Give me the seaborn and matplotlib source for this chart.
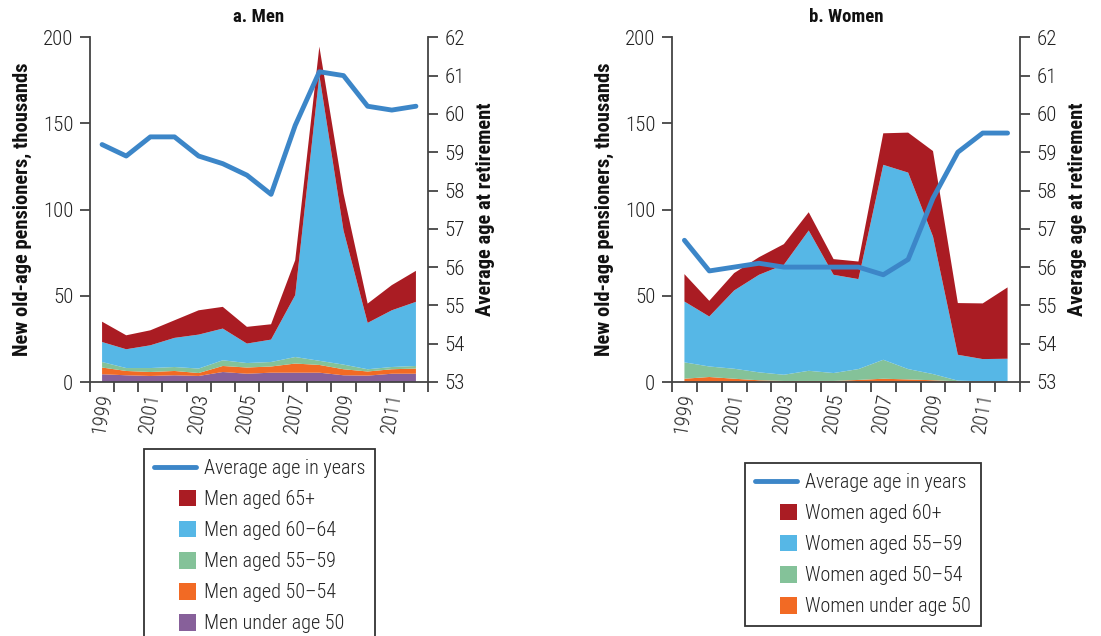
import matplotlib
matplotlib.use("Agg")
import matplotlib.pyplot as plt
import numpy as np
import pandas as pd
import seaborn as sns
from matplotlib.patches import Rectangle, Patch
from matplotlib.lines import Line2D
from matplotlib.legend_handler import HandlerPatch

# ---------------- data ----------------
years = list(range(1999, 2013))
year_labels = ["1999", "2001", "2003", "2005", "2007", "2009", "2011"]

men_under50 = [4.5, 3.9, 3.5, 3.9, 3.5, 5.8, 4.8, 5.4, 5.4, 5.4, 3.9, 3.7, 4.8, 4.8]
men_50_54 = [3.9, 2.5, 2.3, 2.5, 1.7, 3.5, 3.6, 3.6, 5.3, 4.5, 3.5, 2.4, 2.6, 3.0]
men_55_59 = [3.2, 1.7, 2.3, 2.3, 2.6, 3.3, 2.6, 2.6, 3.8, 2.4, 2.7, 1.3, 1.3, 1.5]
men_60_64 = [11.6, 10.9, 13.2, 16.9, 19.7, 18.4, 11.3, 13.0, 35.9, 165.7, 77.9, 26.9, 32.9, 37.2]
men_65plus = [11.8, 8.1, 8.7, 10.2, 14.1, 12.6, 9.7, 8.9, 20.3, 16.6, 21.4, 11.2, 14.6, 18.0]
men_avg_age = [59.2, 58.9, 59.4, 59.4, 58.9, 58.7, 58.4, 57.9, 59.7, 61.1, 61.0, 60.2, 60.1, 60.2]

women_under50 = [1.9, 2.9, 1.9, 1.0, 0.6, 0.6, 0.6, 1.2, 1.9, 1.5, 1.0, 0.4, 0.2, 0.2]
women_50_54 = [9.5, 6.1, 5.8, 4.6, 3.6, 5.9, 4.6, 6.3, 11.0, 6.0, 3.6, 0.4, 0.2, 0.2]
women_55_59 = [35.3, 29.0, 45.4, 56.6, 63.8, 81.4, 57.0, 52.2, 113.1, 114.0, 79.8, 15.0, 12.9, 13.1]
women_60plus = [15.9, 9.1, 10.1, 10.2, 12.0, 10.6, 9.1, 10.2, 18.3, 23.2, 49.6, 30.0, 32.3, 41.4]
women_avg_age = [56.7, 55.9, 56.0, 56.1, 56.0, 56.0, 56.0, 56.0, 55.8, 56.2, 57.8, 59.0, 59.5, 59.5]

men_labels = ["Men under age 50", "Men aged 50\u201354", "Men aged 55\u201359",
              "Men aged 60\u201364", "Men aged 65+"]
women_labels = ["Women under age 50", "Women aged 50\u201354", "Women aged 55\u201359",
                "Women aged 60+"]
line_label = "Average age in years"

# ---------------- style ----------------
C_RED = "#AA1C23"
C_BLUE = "#56B7E6"
C_GREEN = "#84C299"
C_ORANGE = "#F26A24"
C_PURPLE = "#87609A"
C_LINE = "#3C86C8"
C_AX = "#444444"
C_TXT = "#222222"

sns.set_theme(style="white")
plt.rcParams["font.family"] = ["Roboto Condensed", "DejaVu Sans"]

fig = plt.figure(figsize=(11.01, 6.36), dpi=100)

ax_m = fig.add_axes([90 / 1101, 1 - 382 / 636, 338 / 1101, 344.7 / 636])
ax_w = fig.add_axes([672 / 1101, 1 - 382 / 636, 348 / 1101, 344.7 / 636])


class SquareHandler(HandlerPatch):
    def create_artists(self, legend, orig_handle, xdescent, ydescent,
                       width, height, fontsize, trans):
        s = fontsize * 0.82
        p = Rectangle((-xdescent + width - s, -ydescent + (height - s) / 2), s, s,
                      facecolor=orig_handle.get_facecolor(), edgecolor="none",
                      transform=trans)
        return [p]


def draw_panel(ax, title, stacks, labels, colors, age, legend_anchor):
    ax.stackplot(years, *stacks, colors=colors, linewidth=0, edgecolor="none")
    ax.set_xlim(1998.5, 2012.5)
    ax.set_ylim(0, 200)
    ax.set_yticks([0, 50, 100, 150, 200])
    ax.set_xticks([int(y) for y in year_labels])
    ax.set_xticklabels(year_labels, rotation=80, fontweight="light")
    ax.set_xticks(np.arange(1998.5, 2013, 1.0), minor=True)
    ax.tick_params(axis="x", which="major", length=0, pad=7, labelsize=15, colors=C_TXT)
    ax.tick_params(axis="x", which="minor", length=7, width=1.3, color=C_AX, direction="out",
                   bottom=True)
    ax.tick_params(axis="y", length=7, width=1.3, color=C_AX, direction="out", left=True,
                   labelsize=15, labelcolor=C_TXT, pad=5)
    for t in ax.get_yticklabels():
        t.set_fontweight("light")
    for sp in ["top", "right"]:
        ax.spines[sp].set_visible(False)
    for sp in ["left", "bottom"]:
        ax.spines[sp].set_color(C_AX)
        ax.spines[sp].set_linewidth(1.3)
    ax.set_ylabel("New old-age pensioners, thousands", fontsize=14.8, fontweight="bold",
                  color="#111111", labelpad=8)
    ax.set_title(title, fontsize=13.5, fontweight="bold", color="#111111", pad=11)

    ax2 = ax.twinx()
    sns.lineplot(x=years, y=age, ax=ax2, color=C_LINE, linewidth=3.5, legend=False)
    ax2.set_ylim(53, 62)
    ax2.set_yticks(range(53, 63))
    ax2.tick_params(axis="y", length=7, width=1.3, color=C_AX, direction="out", right=True,
                    labelsize=15, labelcolor=C_TXT, pad=5)
    for t in ax2.get_yticklabels():
        t.set_fontweight("light")
    for sp in ["top", "left", "bottom"]:
        ax2.spines[sp].set_visible(False)
    ax2.spines["right"].set_color(C_AX)
    ax2.spines["right"].set_linewidth(1.3)
    ax2.set_ylabel("Average age at retirement", fontsize=14.8, fontweight="bold",
                   color="#111111", labelpad=8)
    ax2.set_xlim(1998.5, 2012.5)

    handles = [Line2D([0], [0], color=C_LINE, linewidth=3.5)]
    hl = [line_label]
    for lab, col in reversed(list(zip(labels, colors))):
        handles.append(Patch(facecolor=col))
        hl.append(lab)
    leg = fig.legend(handles, hl, loc="upper center", bbox_to_anchor=legend_anchor,
                     prop={"size": 14.5, "weight": "light"}, frameon=True, fancybox=False,
                     handlelength=2.1, handletextpad=0.4, labelspacing=0.6, borderpad=0.5,
                     borderaxespad=0, handler_map={Patch: SquareHandler()})
    fr = leg.get_frame()
    fr.set_edgecolor("#333333")
    fr.set_linewidth(1.3)
    fr.set_alpha(1)
    for t in leg.get_texts():
        t.set_color(C_TXT)


draw_panel(ax_m, "a. Men",
           [men_under50, men_50_54, men_55_59, men_60_64, men_65plus],
           men_labels, [C_PURPLE, C_ORANGE, C_GREEN, C_BLUE, C_RED],
           men_avg_age, (259.5 / 1101, 1 - 449 / 636))

draw_panel(ax_w, "b. Women",
           [women_under50, women_50_54, women_55_59, women_60plus],
           women_labels, [C_ORANGE, C_GREEN, C_BLUE, C_RED],
           women_avg_age, (862.8 / 1101, 1 - 463 / 636))

fig.savefig("out.png", dpi=100)
